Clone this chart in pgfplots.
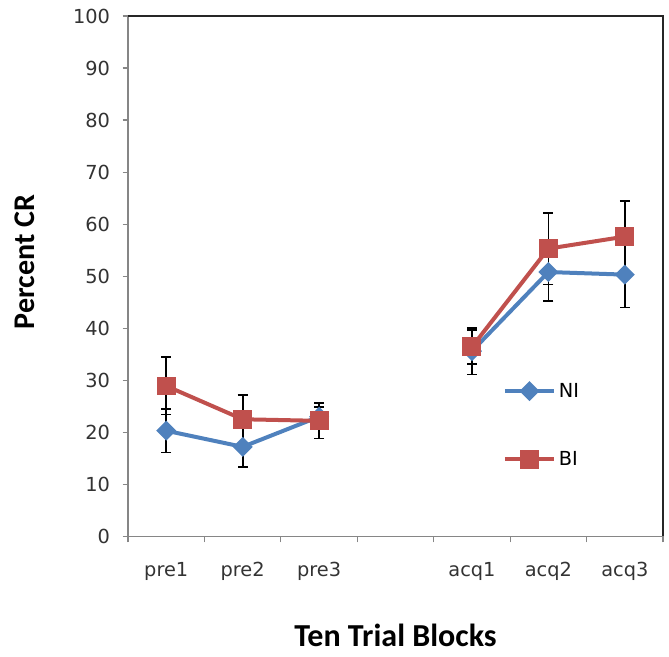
\documentclass[border=0pt]{standalone}
\usepackage{fontspec}
\setmainfont{Carlito}
\newfontfamily\tickfont{DejaVu Sans}
\usepackage{pgfplots}
\usepackage{pgfplotstable}
\pgfplotsset{compat=1.18}

\definecolor{niblue}{RGB}{79,129,189}
\definecolor{bired}{RGB}{192,80,77}
\definecolor{axisgray}{RGB}{134,134,134}

% mean and error per ten-trial block (x=3 is the gap)
\pgfplotstableread{
x  ni   eni  bi   ebi
0  20.3 4.2  28.9 5.5
1  17.2 3.9  22.5 4.7
2  23.0 1.8  22.2 3.4
3  nan  0    nan  0
4  35.6 4.5  36.4 3.3
5  50.8 5.5  55.3 6.9
6  50.3 6.3  57.6 6.8
}\blocks

\begin{document}
\begin{tikzpicture}
\begin{axis}[
    scale only axis,
    width=401pt, height=390pt,
    xmin=-0.5, xmax=6.5, ymin=0, ymax=100,
    xtick={0,1,2,4,5,6},
    xticklabels={pre1,pre2,pre3,acq1,acq2,acq3},
    minor xtick={-0.5,0.5,...,6.5},
    ytick={0,10,...,100},
    major x tick style={draw=none},
    tick align=outside,
    xtick pos=bottom, ytick pos=left,
    major tick length=4pt, minor tick length=4.5pt,
    tick style={axisgray, line width=0.9pt},
    axis line style={axisgray, line width=1.2pt},
    ticklabel style={font=\tickfont\fontsize{14.5}{17}\selectfont, text=black!80},
    /pgf/number format/assume math mode=true,
    xticklabel style={anchor=center, yshift=-22pt},
    yticklabel style={xshift=-6pt},
    xlabel={Ten Trial Blocks},
    ylabel={Percent CR},
    xlabel style={at={(rel axis cs:0.5,-0.19)}, anchor=center,
        font=\bfseries\fontsize{24}{28}\selectfont},
    ylabel style={at={(rel axis cs:-0.1925,0.527)}, anchor=center,
        font=\bfseries\fontsize{22.5}{27}\selectfont},
    unbounded coords=jump,
    clip=false,
    legend style={at={(rel axis cs:0.70,0.2135)}, anchor=west,
        draw=none, fill=none, inner sep=0pt, row sep=35pt,
        font=\tickfont\fontsize{14.5}{17}\selectfont},
    legend cell align=left,
    legend image code/.code={
        \draw[#1, mark repeat=2, mark phase=2]
            plot coordinates {(0pt,0pt) (18.5pt,0pt) (37pt,0pt)};
    },
]
\addplot[niblue, line width=3pt, mark=square*,
    mark options={rotate=45, mark size=3.8pt, solid},
    error bars/.cd, y dir=both, y explicit,
    error bar style={black, line width=1.3pt},
    error mark options={rotate=90, black, mark size=3.75pt, line width=1.3pt}]
    table[x=x, y=ni, y error=eni] {\blocks};
\addlegendentry{NI}
\addplot[bired, line width=3pt, mark=square*,
    mark options={mark size=5.6pt, solid},
    error bars/.cd, y dir=both, y explicit,
    error bar style={black, line width=1.3pt},
    error mark options={rotate=90, black, mark size=3.75pt, line width=1.3pt}]
    table[x=x, y=bi, y error=ebi] {\blocks};
\addlegendentry{BI}
\draw[black!85, line width=1.2pt]
    (rel axis cs:0,1) -- (rel axis cs:1,1) -- (rel axis cs:1,0);
\path (rel axis cs:-0.2393,-0.2308) rectangle (rel axis cs:1.0112,1.0308);
\end{axis}
\end{tikzpicture}
\end{document}
